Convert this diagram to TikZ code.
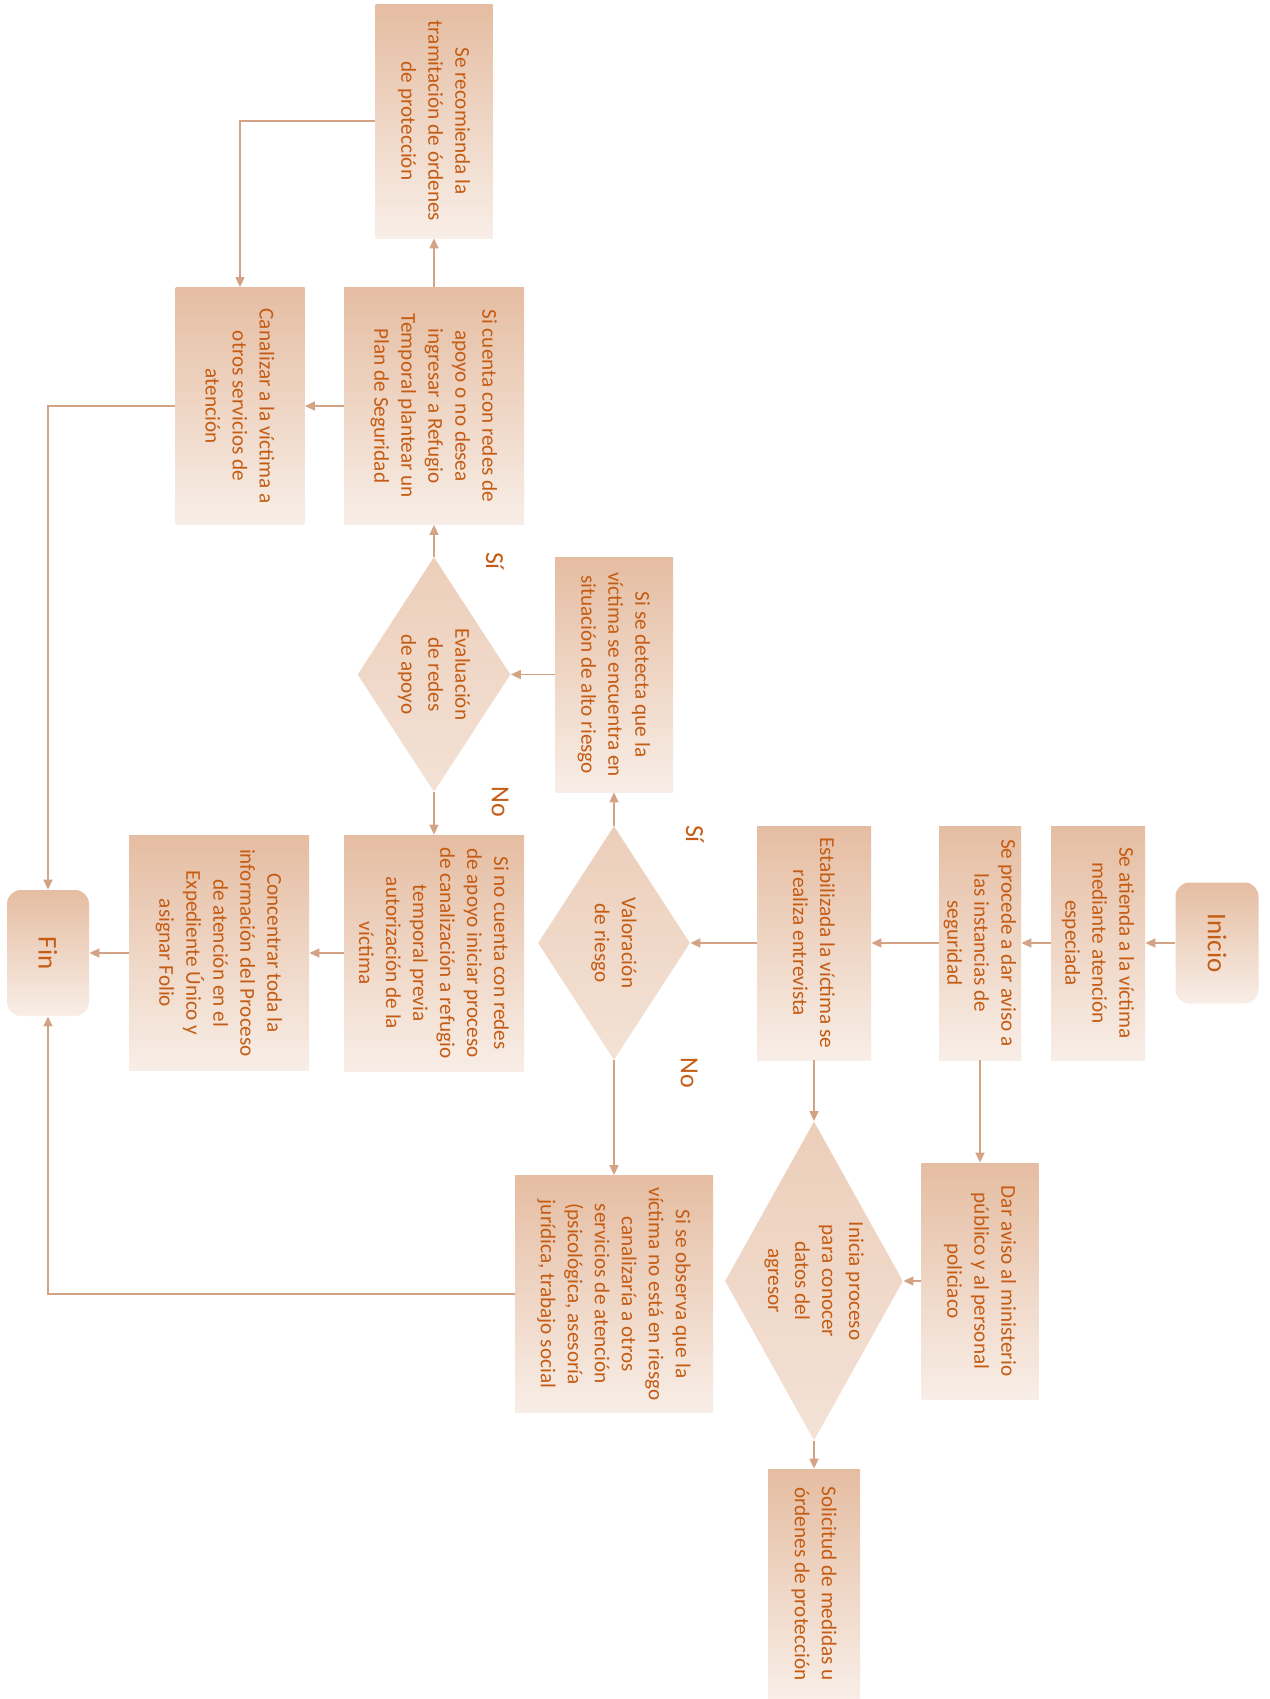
\documentclass[tikz,border=0pt]{standalone}
\usepackage{fontspec}
\setmainfont{Carlito}
\usepackage{tikz}
\usetikzlibrary{arrows.meta, shapes.geometric}
\definecolor{cajaA}{RGB}{229,189,162}
\definecolor{cajaB}{RGB}{248,238,231}
\definecolor{romboA}{RGB}{236,206,186}
\definecolor{romboB}{RGB}{243,226,214}
\definecolor{texto}{RGB}{197,92,20}
\definecolor{linea}{RGB}{212,163,134}

\begin{document}
\begin{tikzpicture}[x=0.5pt, y=-0.5pt,
  paso/.style={rectangle, rotate=-90, top color=cajaA, bottom color=cajaB, text=texto, align=center, inner sep=2pt, font=\fontsize{10.6}{13.5}\selectfont},
  decision/.style={paso, diamond, top color=romboA, bottom color=romboB, inner sep=0pt},
  limite/.style={paso, rounded corners=7pt, font=\fontsize{13.5}{16}\selectfont},
  flecha/.style={draw=linea, line width=0.8pt, -{Triangle[length=5pt, width=4.5pt]}},
  resp/.style={rotate=-90, text=texto, font=\fontsize{13}{15}\selectfont}]
\useasboundingbox (0,0) rectangle (1270,1699);
\node[limite, minimum width=60.5pt, minimum height=41.5pt] (inicio) at (1217,943) {Inicio};
\node[paso, minimum width=117pt, minimum height=47pt] (atiende) at (1098,943) {Se atienda a la víctima\\mediante atención\\especiada};
\node[paso, minimum width=117pt, minimum height=41pt] (aviso) at (980,943) {Se procede a dar aviso a\\las instancias de\\seguridad};
\node[paso, minimum width=117pt, minimum height=57pt] (entrevista) at (814,943) {Estabilizada la víctima se\\realiza entrevista};
\node[decision, shape aspect=1.54, minimum width=117pt, minimum height=76pt] (valora) at (614,943) {Valoración\\de riesgo};
\node[paso, minimum width=117.5pt, minimum height=59pt] (alto) at (614,674.5) {Si se detecta que la\\víctima se encuentra en\\situación de alto riesgo};
\node[decision, shape aspect=1.54, minimum width=117.5pt, minimum height=76.5pt] (redes) at (434,674.5) {Evaluación\\de redes\\de apoyo};
\node[paso, minimum width=118.5pt, minimum height=90pt] (plan) at (434,406) {Si cuenta con redes de\\apoyo o no desea\\ingresar a Refugio\\Temporal plantear un\\Plan de Seguridad};
\node[paso, minimum width=117pt, minimum height=58.5pt] (ordenes) at (434,121) {Se recomienda la\\tramitación de órdenes\\de protección};
\node[paso, minimum width=118.5pt, minimum height=64.5pt] (canaliza) at (240,406) {Canalizar a la víctima a\\otros servicios de\\atención};
\node[paso, minimum width=118pt, minimum height=90pt] (refugio) at (434,953) {Si no cuenta con redes\\de apoyo iniciar proceso\\de canalización a refugio\\temporal previa\\autorización de la\\víctima};
\node[paso, minimum width=117.5pt, minimum height=90pt] (expediente) at (219,953) {Concentrar toda la\\información del Proceso\\de atención en el\\Expediente Único y\\asignar Folio};
\node[limite, minimum width=63pt, minimum height=41pt] (fin) at (48,953) {Fin};
\node[paso, minimum width=118pt, minimum height=58.5pt] (ministerio) at (980,1281) {Dar aviso al ministerio\\público y al personal\\policiaco};
\node[decision, shape aspect=1.79, minimum width=159.5pt, minimum height=89pt] (agresor) at (814,1281) {Inicia proceso\\para conocer\\datos del\\agresor};
\node[paso, minimum width=118.5pt, minimum height=99pt] (sinriesgo) at (614,1294) {Si se observa que la\\víctima no está en riesgo\\canalizaría a otros\\servicios de atención\\(psicológica, asesoría\\jurídica, trabajo social};
\node[paso, minimum width=115pt, minimum height=46pt] (solicitud) at (814,1584) {Solicitud de medidas u\\órdenes de protección};
\node[resp] (si1) at (695,834) {Sí};
\node[resp] (no1) at (689,1073) {No};
\node[resp] (si2) at (495,561) {Sí};
\node[resp] (no2) at (500,802) {No};
\draw[flecha] (inicio) -- (atiende);
\draw[flecha] (atiende) -- (aviso);
\draw[flecha] (aviso) -- (entrevista);
\draw[flecha] (entrevista) -- (valora);
\draw[flecha] (aviso) -- (ministerio);
\draw[flecha] (entrevista) -- (agresor);
\draw[flecha] (ministerio) -- (agresor);
\draw[flecha] (agresor) -- (solicitud);
\draw[flecha] (valora) -- (alto);
\draw[flecha] (valora) -- (sinriesgo);
\draw[flecha] (alto) -- (redes);
\draw[flecha] (redes) -- (plan);
\draw[flecha] (redes) -- (refugio);
\draw[flecha] (plan) -- (ordenes);
\draw[flecha] (plan) -- (canaliza);
\draw[flecha] (ordenes) -| (canaliza);
\draw[flecha] (canaliza) -| (fin);
\draw[flecha] (refugio) -- (expediente);
\draw[flecha] (expediente) -- (fin);
\draw[flecha] (sinriesgo) -| (fin);
\end{tikzpicture}
\end{document}
